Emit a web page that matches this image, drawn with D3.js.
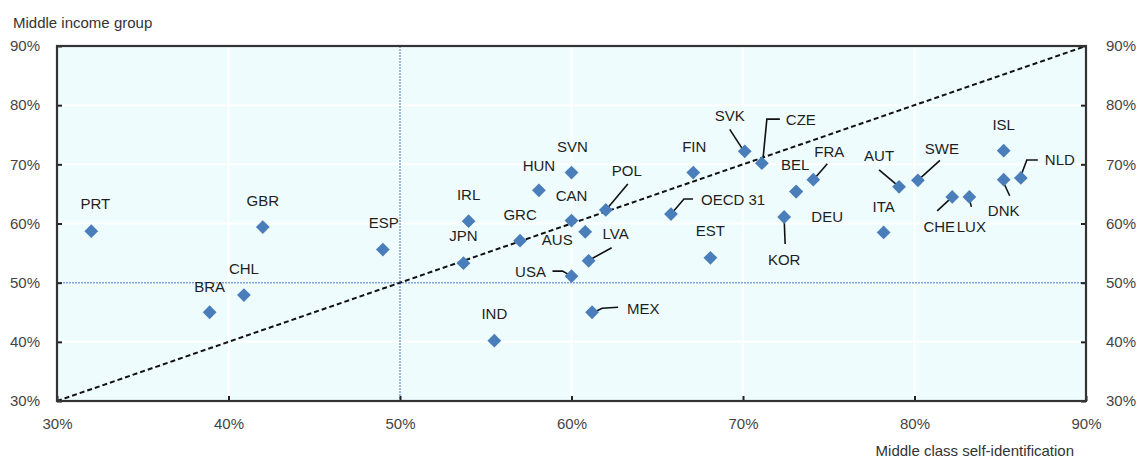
<!DOCTYPE html>
<html>
<head>
<meta charset="utf-8">
<script src="https://cdn.jsdelivr.net/npm/d3@7"></script>
<style>
  html, body { margin: 0; padding: 0; background: #ffffff; }
  svg { display: block; font-family: "Liberation Sans", Arial, sans-serif; }
</style>
</head>
<body>
<svg id="chart" width="1137" height="459"></svg>
<script>
// ---- Data ----
const countries = ["PRT","GBR","ESP","CHL","BRA","IND","MEX","SVN","HUN","IRL","CAN","GRC","AUS","JPN","LVA","USA","POL","FIN","OECD 31","EST","SVK","CZE","BEL","DEU","FRA","KOR","ITA","AUT","SWE","CHE","LUX","ISL","DNK","NLD"];
const selfIdentification = [32.0,42.0,49.0,40.9,38.9,55.5,61.2,60.0,58.1,54.0,60.0,57.0,60.8,53.7,61.0,60.0,62.0,67.1,65.8,68.1,70.1,71.1,73.1,73.1,74.1,72.4,78.2,79.1,80.2,82.2,83.2,85.2,85.2,86.2];
const middleIncome =       [58.7,59.4,55.6,47.9,45.0,40.2,45.0,68.6,65.6,60.4,60.5,57.1,58.6,53.3,53.7,51.1,62.3,68.6,61.6,54.2,72.2,70.2,65.4,65.4,67.4,61.1,58.5,66.2,67.3,64.5,64.5,72.3,67.4,67.7];
const xTicks = [30,40,50,60,70,80,90];
const yTicks = [30,40,50,60,70,80,90];
const xTitle = "Middle class self-identification";
const yTitle = "Middle income group";

// ---- Label placement (pixel offsets from the marker) ----
const placement = {
  "PRT":[4,-27,"middle"], "GBR":[0,-26,"middle"], "ESP":[1,-27,"middle"],
  "CHL":[0,-26,"middle"], "BRA":[0,-26,"middle"], "IND":[0,-27,"middle"],
  "MEX":[35,-4,"start",[[26,-5],[10,-4],[2,0]]],
  "SVN":[1,-26,"middle"], "HUN":[0,-25,"middle"], "IRL":[0,-26,"middle"],
  "CAN":[0,-25,"middle"], "GRC":[0,-26,"middle"], "AUS":[-28,8,"middle"],
  "JPN":[0,-27,"middle"],
  "LVA":[27,-27,"middle",[[23,-13],[3,-2]]],
  "USA":[-41,-4,"middle",[[-19,-5],[-9,-5],[0,0]]],
  "POL":[21,-39,"middle",[[22,-26],[1,-1]]],
  "FIN":[1,-26,"middle"],
  "OECD 31":[30,-14,"start",[[22,-15],[13,-15],[1,-1]]],
  "EST":[0,-27,"middle"],
  "SVK":[-15,-36,"middle",[[-15,-22],[-2,-2]]],
  "CZE":[24,-43,"start",[[18,-44],[5,-44],[1,-3]]],
  "BEL":[-1,-27,"middle"], "DEU":[31,25,"middle"],
  "FRA":[16,-28,"middle",[[14,-16],[1,-1]]],
  "KOR":[0,43,"middle",[[1,27],[0,2]]],
  "ITA":[0,-26,"middle"],
  "AUT":[-20,-31,"middle",[[-20,-17],[-1,-1]]],
  "SWE":[24,-32,"middle",[[22,-20],[1,-1]]],
  "CHE":[-13,30,"middle",[[-15,14],[-1,1]]],
  "LUX":[2,30,"middle",[[2,10],[0,2]]],
  "ISL":[0,-26,"middle"],
  "DNK":[0,31,"middle",[[6,16],[0,3]]],
  "NLD":[24,-18,"start",[[17,-18],[6,-18],[0,-2]]]
};

const svg = d3.select("#chart");
const L = 57, R = 1086, T = 46, B = 401;

const x = d3.scaleLinear().domain([30, 90]).range([L, R]);
const y = d3.scaleLinear().domain([30, 90]).range([B, T]);

// plot background
svg.append("rect").attr("x", L).attr("y", T).attr("width", R - L).attr("height", B - T)
  .attr("fill", "#effcfd");

// faint white gridlines
const g = svg.append("g");
g.selectAll("line.vx").data(xTicks.filter(d => d > 30 && d < 90)).join("line")
  .attr("x1", d => x(d)).attr("x2", d => x(d)).attr("y1", T).attr("y2", B)
  .attr("stroke", "#ffffff").attr("stroke-width", 2);
g.selectAll("line.hy").data(yTicks.filter(d => d > 30 && d < 90)).join("line")
  .attr("y1", d => y(d)).attr("y2", d => y(d)).attr("x1", L).attr("x2", R)
  .attr("stroke", "#ffffff").attr("stroke-width", 2);

// blue 50% reference lines
svg.append("line").attr("x1", x(50)).attr("x2", x(50)).attr("y1", T).attr("y2", B)
  .attr("stroke", "#79a3dc").attr("stroke-width", 1.5).attr("stroke-dasharray", "2,1");
svg.append("line").attr("y1", y(50)).attr("y2", y(50)).attr("x1", L).attr("x2", R)
  .attr("stroke", "#79a3dc").attr("stroke-width", 1.5).attr("stroke-dasharray", "2,1");

// 45 degree dashed line
svg.append("line").attr("x1", x(30)).attr("y1", y(30)).attr("x2", x(90)).attr("y2", y(90))
  .attr("stroke", "#111").attr("stroke-width", 2).attr("stroke-dasharray", "5,3");

// axes
const fmt = d => d + "%";
const axL = svg.append("g").attr("transform", `translate(${L},0)`)
  .call(d3.axisLeft(y).tickValues(yTicks).tickFormat(fmt).tickSizeInner(-5).tickSizeOuter(0).tickPadding(17));
const axR = svg.append("g").attr("transform", `translate(${R},0)`)
  .call(d3.axisRight(y).tickValues(yTicks).tickFormat(fmt).tickSizeInner(-5).tickSizeOuter(0).tickPadding(20));
const axB = svg.append("g").attr("transform", `translate(0,${B})`)
  .call(d3.axisBottom(x).tickValues(xTicks).tickFormat(fmt).tickSizeInner(-5).tickSizeOuter(0).tickPadding(17));
[axL, axR, axB].forEach(a => {
  a.select(".domain").remove();
  a.selectAll(".tick line").attr("stroke", "#222").attr("stroke-width", 2);
  a.selectAll(".tick text").attr("fill", "#444").style("font-size", "15px")
    .style("font-family", "'Liberation Sans', Arial, sans-serif");
});

// border
svg.append("rect").attr("x", L).attr("y", T).attr("width", R - L).attr("height", B - T)
  .attr("fill", "none").attr("stroke", "#333").attr("stroke-width", 2.2);

// titles
svg.append("text").attr("x", 13).attr("y", 28).text(yTitle)
  .attr("fill", "#333").style("font-size", "15px");
svg.append("text").attr("x", 1074).attr("y", 456).attr("text-anchor", "end").text(xTitle)
  .attr("fill", "#333").style("font-size", "15px");

// data records
const pts = countries.map((c, i) => ({ c, xv: selfIdentification[i], yv: middleIncome[i] }));

// leader lines
const lineGen = d3.line();
svg.append("g").selectAll("path").data(pts.filter(d => placement[d.c][3])).join("path")
  .attr("d", d => lineGen(placement[d.c][3].map(p => [x(d.xv) + p[0], y(d.yv) + p[1]])))
  .attr("fill", "none").attr("stroke", "#111").attr("stroke-width", 1.6);

// markers
const diamond = d3.symbol().type(d3.symbolSquare).size(95);
svg.append("g").selectAll("path").data(pts).join("path")
  .attr("d", diamond)
  .attr("transform", d => `translate(${x(d.xv)},${y(d.yv)}) rotate(45)`)
  .attr("fill", "#4a7ebb");

// labels
svg.append("g").selectAll("text").data(pts).join("text")
  .attr("x", d => x(d.xv) + placement[d.c][0])
  .attr("y", d => y(d.yv) + placement[d.c][1])
  .attr("dy", "0.35em")
  .attr("text-anchor", d => placement[d.c][2])
  .attr("fill", "#1e1e1e")
  .style("font-size", "15px")
  .text(d => d.c);
</script>
</body>
</html>
